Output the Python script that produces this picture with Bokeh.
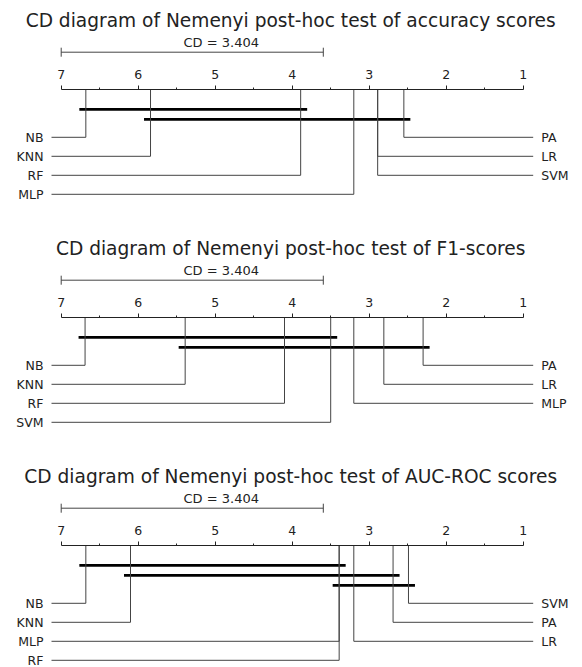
import math
from bokeh.plotting import figure
from bokeh.models import Range1d, LinearAxis, FixedTicker, ColumnDataSource
from bokeh.core.properties import value
from bokeh.embed import file_html
from bokeh.resources import INLINE

# ---------------- data ----------------
titles = [
    "CD diagram of Nemenyi post-hoc test of accuracy scores",
    "CD diagram of Nemenyi post-hoc test of F1-scores",
    "CD diagram of Nemenyi post-hoc test of AUC-ROC scores",
]
cd_value = 3.404
rank_ticks = [7, 6, 5, 4, 3, 2, 1]
rank_minor = [6.5, 5.5, 4.5, 3.5, 2.5, 1.5]

acc_names = ["NB", "KNN", "RF", "MLP", "SVM", "LR", "PA"]
acc_ranks = [6.68, 5.84, 3.89, 3.20, 2.89, 2.89, 2.55]
acc_cliques = [("NB", "RF"), ("KNN", "PA")]

f1_names = ["NB", "KNN", "RF", "SVM", "MLP", "LR", "PA"]
f1_ranks = [6.69, 5.39, 4.10, 3.50, 3.20, 2.81, 2.30]
f1_cliques = [("NB", "SVM"), ("KNN", "PA")]

auc_names = ["NB", "KNN", "MLP", "RF", "LR", "PA", "SVM"]
auc_ranks = [6.68, 6.10, 3.39, 3.39, 3.20, 2.69, 2.49]
auc_cliques = [("NB", "RF"), ("KNN", "PA"), ("RF", "SVM")]

panels = [
    (titles[0], acc_names, acc_ranks, acc_cliques),
    (titles[1], f1_names, f1_ranks, f1_cliques),
    (titles[2], auc_names, auc_ranks, auc_cliques),
]

# ---------------- layout (pixels) ----------------
W, H = 582, 667
PX_PER_RANK = 77.0
LEFT_PAD = 60.7            # px from left edge to rank 7
PANEL_DY = 228.0
AXIS_Y = 89.3
TITLE_Y = 20.0
CD_BAR_Y = 51.7
CD_TEXT_Y = 41.5
CD_CAP = 4.5
BAR_FIRST = 19.5
BAR_STEP = 10.0
ROW_FIRST = 18.0
ROW_STEP = 19.0
LEFT_OUT = 9.7
RIGHT_OUT = 10.0
BAR_EXT = 6.5

FONT = value("DejaVu Sans")
LINE_C = "#444444"
TEXT_C = "#222222"

x_start = max(rank_ticks) + LEFT_PAD / PX_PER_RANK
x_end = x_start - W / PX_PER_RANK
# data y == picture y
p = figure(width=W, height=H, output_backend="svg", toolbar_location=None,
           x_range=Range1d(x_start, x_end), y_range=Range1d(H, 0),
           x_axis_location=None, y_axis_location=None, min_border=0)
p.outline_line_color = None
p.grid.visible = False

hi_rank, lo_rank = max(rank_ticks), min(rank_ticks)
left_edge = hi_rank + LEFT_OUT / PX_PER_RANK
right_edge = lo_rank - RIGHT_OUT / PX_PER_RANK
ext = BAR_EXT / PX_PER_RANK
mid_rank = (hi_rank + lo_rank) / 2

for k, (title, names, ranks, cliques) in enumerate(panels):
    off = k * PANEL_DY
    ay = AXIS_Y + off

    # title
    p.text(x=[mid_rank], y=[TITLE_Y + off], text=[title], text_font=FONT,
           text_font_size="18.6px", text_align="center", text_baseline="alphabetic",
           x_offset=-1.5, text_color=TEXT_C)

    # CD bar
    cd_l, cd_r = hi_rank, hi_rank - cd_value
    cy = CD_BAR_Y + off
    p.segment(x0=[cd_l, cd_l, cd_r], y0=[cy, cy - CD_CAP, cy - CD_CAP],
              x1=[cd_r, cd_l, cd_r], y1=[cy, cy + CD_CAP, cy + CD_CAP],
              line_color=LINE_C, line_width=1)
    p.text(x=[(cd_l + cd_r) / 2], y=[CD_TEXT_Y + off], text=[f"CD = {cd_value:.3f}"],
           text_font=FONT, text_font_size="13px", text_align="center",
           text_baseline="alphabetic", x_offset=29, text_color=TEXT_C)

    # axis
    ax = LinearAxis(fixed_location=ay, bounds=(lo_rank, hi_rank),
                    ticker=FixedTicker(ticks=rank_ticks, minor_ticks=rank_minor))
    ax.major_tick_in = 0
    ax.major_tick_out = 4
    ax.minor_tick_in = 0
    ax.minor_tick_out = 2
    ax.axis_line_color = "#222222"
    ax.major_tick_line_color = "#222222"
    ax.minor_tick_line_color = "#222222"
    ax.major_label_text_font = "DejaVu Sans"
    ax.major_label_text_font_size = "12.5px"
    ax.major_label_text_color = TEXT_C
    ax.major_label_standoff = 7
    p.add_layout(ax, "above")

    # clique bars
    rank_of = dict(zip(names, ranks))
    bx0, bx1, by = [], [], []
    for i, (a, b) in enumerate(cliques):
        bx0.append(rank_of[a] + ext)
        bx1.append(rank_of[b] - ext)
        by.append(ay + BAR_FIRST + i * BAR_STEP)
    p.segment(x0=bx0, y0=by, x1=bx1, y1=by, line_color="black", line_width=2.8)

    # rows
    row0 = by[-1] + ROW_FIRST
    n_left = math.ceil(len(names) / 2)
    left = list(zip(names[:n_left], ranks[:n_left]))
    right = list(zip(names[n_left:], ranks[n_left:]))[::-1]
    xs, ys = [], []
    lt = dict(x=[], y=[], t=[])
    rt = dict(x=[], y=[], t=[])
    for i, (nm, r) in enumerate(left):
        ry = row0 + i * ROW_STEP
        xs.append([r, r, left_edge]); ys.append([ay, ry, ry])
        lt["x"].append(left_edge); lt["y"].append(ry); lt["t"].append(nm)
    for i, (nm, r) in enumerate(right):
        ry = row0 + i * ROW_STEP
        xs.append([r, r, right_edge]); ys.append([ay, ry, ry])
        rt["x"].append(right_edge); rt["y"].append(ry); rt["t"].append(nm)
    p.multi_line(xs=xs, ys=ys, line_color=LINE_C, line_width=1)
    p.text(x="x", y="y", text="t", source=ColumnDataSource(lt), text_font=FONT,
           text_font_size="12.5px", text_align="right", text_baseline="middle",
           x_offset=-8, text_color=TEXT_C)
    p.text(x="x", y="y", text="t", source=ColumnDataSource(rt), text_font=FONT,
           text_font_size="12.5px", text_align="left", text_baseline="middle",
           x_offset=8, text_color=TEXT_C)

open("out.html", "w").write(file_html(p, INLINE))
